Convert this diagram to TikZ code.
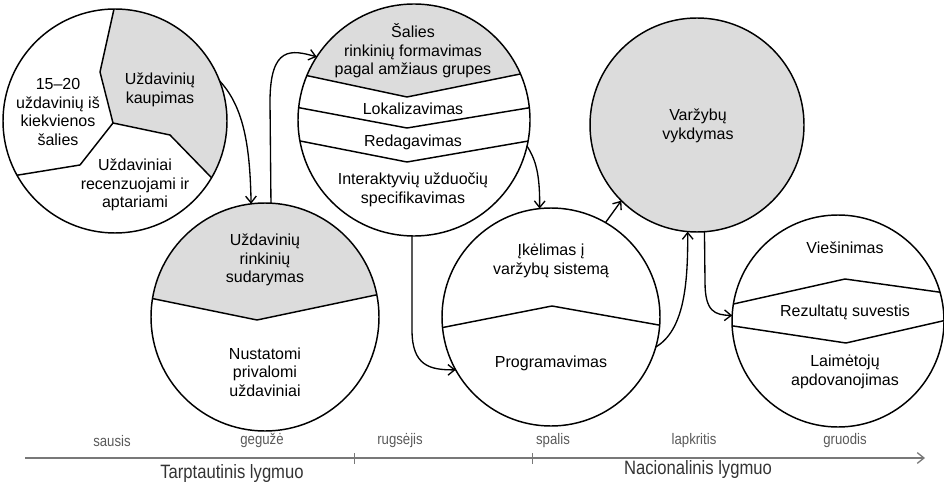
\documentclass[tikz,border=0pt]{standalone}
\usepackage{fontspec}
\setmainfont{Liberation Sans}
\newfontfamily\narrowfont[FakeStretch=0.86]{Liberation Sans}
\usepackage{tikz}
\usetikzlibrary{arrows.meta, calc}
\definecolor{stagefill}{RGB}{220,220,220}
\definecolor{axisgray}{RGB}{120,120,120}

\begin{document}
\begin{tikzpicture}[x=0.75pt, y=-0.75pt,
  stage/.style={circle, draw, line width=1.1pt, inner sep=0pt, outer sep=0pt},
  lbl/.style={align=center, font=\fontsize{12}{14}\selectfont, inner sep=0pt},
  cut/.style={line width=1.1pt, line join=round},
  flow/.style={line width=1pt, -{Straight Barb[length=5pt, width=8pt]}},
  month/.style={font=\narrowfont\fontsize{11.5}{13}\selectfont, text=black!65, inner sep=0pt},
  level/.style={font=\narrowfont\fontsize{14.5}{16}\selectfont, text=black!80, inner sep=0pt}]
\useasboundingbox (0,0) rectangle (944,484);

\coordinate (cA) at (115,121);
\coordinate (cB) at (265,317);
\coordinate (cC) at (414,120);
\coordinate (cD) at (697,125);
\coordinate (cE) at (551,317);
\coordinate (cF) at (838,321);

% kaupimas
\begin{scope}
  \clip (cA) circle[radius=112];
  \fill[stagefill] (116,0) -- (100,72) -- (113,123) -- (170,135) -- (240,207) -- (240,0) -- cycle;
  \draw[cut] (116,0) -- (100,72) -- (113,123) -- (80,165) -- (0,178);
  \draw[cut] (113,123) -- (170,135) -- (240,207);
\end{scope}
\node[stage, minimum size=168pt] (A) at (cA) {};

% rinkiniai
\begin{scope}
  \clip (cB) circle[radius=114];
  \fill[stagefill] (140,296) -- (257,320) -- (390,292) -- (390,190) -- (140,190) -- cycle;
  \draw[cut] (140,296) -- (257,320) -- (390,292);
\end{scope}
\node[stage, minimum size=171pt] (B) at (cB) {};

% formavimas
\begin{scope}
  \clip (cC) circle[radius=116];
  \fill[stagefill] (290,72) -- (407,97) -- (540,70) -- (540,0) -- (290,0) -- cycle;
  \draw[cut] (290,72) -- (407,97) -- (540,70);
  \draw[cut] (290,106) -- (407,128) -- (540,106);
  \draw[cut] (290,139) -- (407,162) -- (540,139);
\end{scope}
\node[stage, minimum size=174pt] (C) at (cC) {};

% vykdymas
\node[stage, fill=stagefill, minimum size=160.5pt] (D) at (cD) {};

% programavimas
\begin{scope}
  \clip (cE) circle[radius=109];
  \draw[cut] (430,330) -- (552,306) -- (670,327);
\end{scope}
\node[stage, minimum size=163.5pt] (E) at (cE) {};

% rezultatai
\begin{scope}
  \clip (cF) circle[radius=106];
  \draw[cut] (720,307) -- (845,279) -- (960,295);
  \draw[cut] (720,324) -- (846,343) -- (960,317);
\end{scope}
\node[stage, minimum size=159pt] (F) at (cF) {};

\node[lbl] (a1) at (58,112) {15–20\\uždavinių iš\\kiekvienos\\šalies};
\node[lbl] (a2) at (160,90) {Uždavinių\\kaupimas};
\node[lbl] (a3) at (135,185) {Uždaviniai\\recenzuojami ir\\aptariami};
\node[lbl] (b1) at (265,260) {Uždavinių\\rinkinių\\sudarymas};
\node[lbl] (b2) at (265,372) {Nustatomi\\privalomi\\uždaviniai};
\node[lbl] (c1) at (413,51) {Šalies\\rinkinių formavimas\\pagal amžiaus grupes};
\node[lbl] (c2) at (413,109) {Lokalizavimas};
\node[lbl] (c3) at (413,142) {Redagavimas};
\node[lbl] (c4) at (413,190) {Interaktyvių užduočių\\specifikavimas};
\node[lbl] (d1) at (698,126) {Varžybų\\vykdymas};
\node[lbl] (e1) at (551,261) {Įkėlimas į\\varžybų sistemą};
\node[lbl] (e2) at (551,363) {Programavimas};
\node[lbl] (f1) at (845,248) {Viešinimas};
\node[lbl] (f2) at (845,312) {Rezultatų suvestis};
\node[lbl] (f3) at (845,372) {Laimėtojų\\apdovanojimas};

\draw[flow] (A.21) .. controls (245,108) and (250,150) .. (B.97);
\draw[flow] (B.87) -- (270,102) .. controls (270,45) and (292,50) .. (C.147);
\draw[flow] (C.-13) .. controls (536,160) and (540,175) .. (E.96);
\draw[flow] (C.-91) -- (412,330) .. controls (412,366) and (430,370) .. (E.-151);
\draw[flow] (E.60) -- (D.-135);
\draw[flow] (E.-16) .. controls (684,330) and (688,285) .. (D.-95);
\draw[flow] (D.-86) -- (705,282) .. controls (705,312) and (715,315) .. (F.177);

\coordinate (ax0) at (25,458);
\coordinate (ax1) at (925,458);
\draw[axisgray, line width=1pt, -{Straight Barb[length=5pt, width=8pt]}] (ax0) -- (ax1);
\foreach \t in {354,532}
  \draw[axisgray, line width=0.5pt] (\t,453) -- (\t,464);
\foreach \m/\x [count=\i] in {sausis/112, gegužė/262, rugsėjis/400, spalis/553, lapkritis/694, gruodis/845}
  \node[month] (m\i) at (\x,441) {\m};
\node[level] (tl) at (232,473) {Tarptautinis lygmuo};
\node[level] (nl) at (698,469) {Nacionalinis lygmuo};
\end{tikzpicture}
\end{document}
